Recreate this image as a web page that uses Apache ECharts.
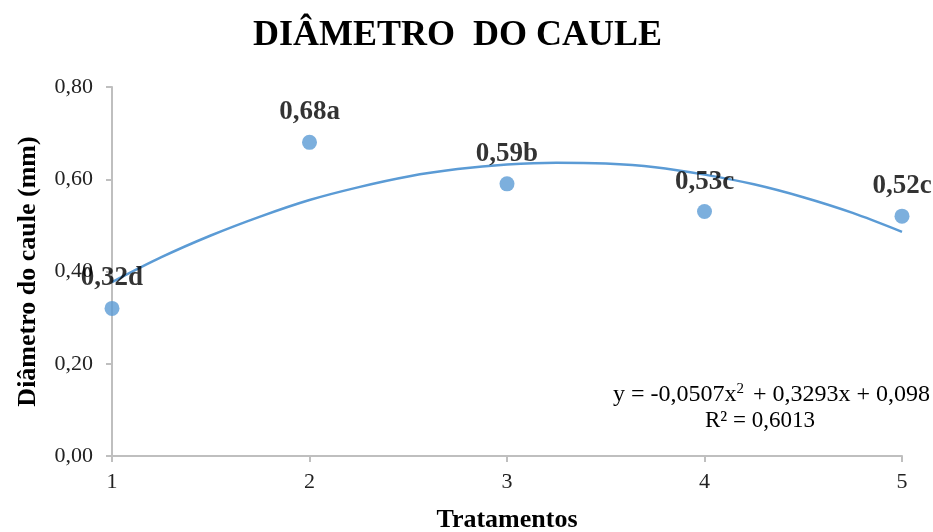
<!DOCTYPE html>
<html style="height: 100%">
<head>
    <meta charset="utf-8">
</head>
<body style="margin: 0; height: 100%">
<div id="container" style="width: 933px; height: 532px"></div>
<script type="text/javascript" src="https://cdn.jsdelivr.net/npm/echarts@6/dist/echarts.min.js"></script>
<script type="text/javascript">
    // tratamentos e médias
    var tratamentos = [1, 2, 3, 4, 5];
    var diametro = [0.32, 0.68, 0.59, 0.53, 0.52];
    var letras = ['0,32d', '0,68a', '0,59b', '0,53c', '0,52c'];
    // linha de tendência
    var tendX = [1, 1.25, 1.5, 1.75, 2, 2.25, 2.5, 2.75, 3, 3.25, 3.5, 3.75, 4, 4.25, 4.5, 4.75, 5];
    var tendY = [0.377, 0.431, 0.478, 0.519, 0.555, 0.583, 0.606, 0.622, 0.632,
                 0.636, 0.634, 0.626, 0.610, 0.589, 0.561, 0.527, 0.486];
    var yTicks = ['0,00', '0,20', '0,40', '0,60', '0,80'];

    var serif = '"Liberation Serif", "DejaVu Serif", serif';
    var azul = '#5b9bd5';

    var dom = document.getElementById("container");
    var myChart = echarts.init(dom);

    var pontos = tratamentos.map(function (t, i) {
        return [t, diametro[i]];
    });
    var curva = tendX.map(function (t, i) {
        return [t, tendY[i]];
    });

    var option = {
        backgroundColor: '#fff',
        animation: false,
        title: {
            text: 'DIÂMETRO  DO CAULE',
            left: 248,
            top: 13,
            textStyle: {
                fontFamily: serif,
                fontWeight: 'bold',
                fontSize: 36,
                color: '#000'
            }
        },
        grid: {
            left: 112,
            right: 31,
            top: 87,
            bottom: 76,
            outerBoundsMode: 'none'
        },
        xAxis: {
            type: 'value',
            min: 1,
            max: 5,
            interval: 1,
            name: 'Tratamentos',
            nameLocation: 'middle',
            nameGap: 51,
            nameTextStyle: {
                fontFamily: serif,
                fontWeight: 'bold',
                fontSize: 26,
                color: '#000'
            },
            axisLine: {lineStyle: {color: '#bfbfbf', width: 2}},
            axisTick: {show: true, length: 6, lineStyle: {color: '#bfbfbf', width: 2}},
            splitLine: {show: false},
            axisLabel: {
                fontFamily: serif,
                fontSize: 22,
                color: '#222',
                margin: 15
            }
        },
        yAxis: {
            type: 'value',
            min: 0,
            max: 0.8,
            interval: 0.2,
            name: 'Diâmetro do caule (mm)',
            nameLocation: 'middle',
            nameGap: 71,
            nameTextStyle: {
                fontFamily: serif,
                fontWeight: 'bold',
                fontSize: 26,
                color: '#000'
            },
            axisLine: {show: true, lineStyle: {color: '#bfbfbf', width: 2}},
            axisTick: {show: true, length: 6, lineStyle: {color: '#bfbfbf', width: 2}},
            splitLine: {show: false},
            axisLabel: {
                fontFamily: serif,
                fontSize: 22,
                color: '#222',
                margin: 19,
                formatter: function (v) {
                    return yTicks[Math.round(v / 0.2)];
                }
            }
        },
        graphic: [
            {
                type: 'text',
                right: 3,
                top: 382,
                style: {
                    text: '{a|y = -0,0507x}{s|2}{a| + 0,3293x + 0,098}',
                    rich: {
                        a: {fontFamily: serif, fontSize: 24, fill: '#000'},
                        s: {fontFamily: serif, fontSize: 15, fill: '#000', verticalAlign: 'top', padding: [0, 3, 10, 0]}
                    }
                }
            },
            {
                type: 'text',
                left: 705,
                top: 409,
                style: {
                    text: 'R² = 0,6013',
                    fontFamily: serif,
                    fontSize: 23,
                    fill: '#000'
                }
            }
        ],
        series: [
            {
                name: 'Tendência',
                type: 'line',
                data: curva,
                smooth: 0.3,
                showSymbol: false,
                lineStyle: {color: azul, width: 2.5},
                z: 3
            },
            {
                name: 'Diâmetro',
                type: 'scatter',
                data: pontos,
                symbolSize: 15,
                itemStyle: {color: azul},
                label: {
                    show: true,
                    position: 'top',
                    distance: 9,
                    fontFamily: serif,
                    fontWeight: 'bold',
                    fontSize: 27,
                    color: '#000',
                    formatter: function (p) {
                        return letras[p.dataIndex];
                    }
                },
                z: 4
            }
        ]
    };

    if (option && typeof option === 'object') {
        myChart.setOption(option);
    }
</script>
</body>
</html>
